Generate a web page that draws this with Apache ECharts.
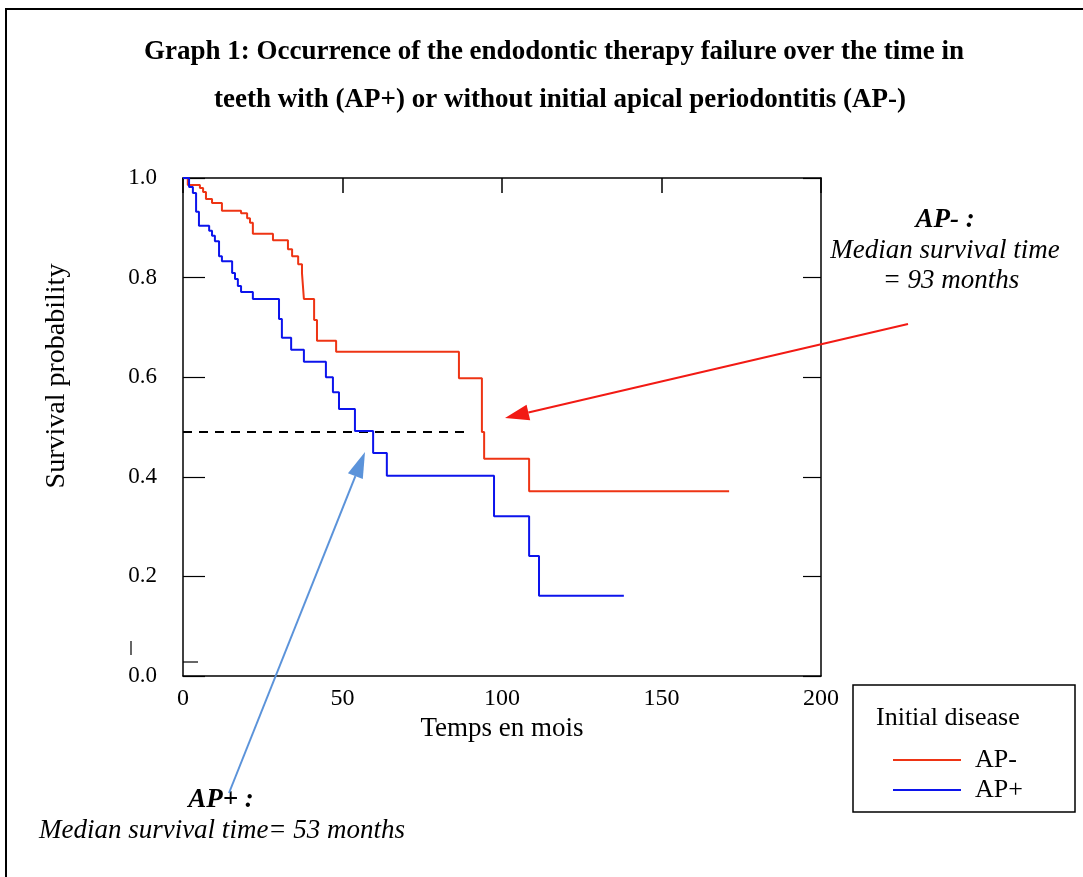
<!DOCTYPE html>
<html>
<head>
<meta charset="utf-8">
<script src="https://cdn.jsdelivr.net/npm/echarts@6/dist/echarts.min.js"></script>
<style>
html,body{margin:0;padding:0;background:#fff;}
#chart{width:1083px;height:877px;}
</style>
</head>
<body>
<div id="chart"></div>
<script>
// ---- data ----
const titleLines = [
  'Graph 1: Occurrence of the endodontic therapy failure over the time in',
  'teeth with (AP+) or without initial apical periodontitis (AP-)'
];
const xTicks = [0, 50, 100, 150, 200];
const yTicks = [0, 0.2, 0.4, 0.6, 0.8, 1.0];

// AP- (initial disease absent): step times (months) and survival after each step
const apMinusTime = [0, 1.5, 5.3, 6.3, 7.2, 9.1, 12.2, 18.2, 20.1, 21.0, 21.9, 28.2, 32.9, 34.2, 36.1, 37.3, 37.9, 41.1, 42.0, 48.0, 86.5, 93.7, 94.4, 108.5, 171.2];
const apMinusSurv = [1.0, 0.986, 0.980, 0.972, 0.958, 0.950, 0.934, 0.929, 0.919, 0.910, 0.888, 0.875, 0.857, 0.843, 0.827, 0.809, 0.757, 0.715, 0.673, 0.651, 0.598, 0.490, 0.436, 0.371, 0.371];

// AP+ (initial apical periodontitis)
const apPlusTime = [0, 1.9, 3.1, 4.1, 5.0, 8.2, 9.1, 10.0, 11.3, 12.2, 15.4, 16.3, 17.2, 18.2, 21.9, 30.1, 31.0, 33.9, 37.9, 44.8, 47.0, 48.9, 53.9, 59.6, 63.9, 97.5, 108.5, 111.6, 138.2];
const apPlusSurv = [1.0, 0.982, 0.970, 0.932, 0.904, 0.894, 0.884, 0.873, 0.843, 0.833, 0.809, 0.797, 0.783, 0.771, 0.757, 0.717, 0.679, 0.655, 0.631, 0.600, 0.570, 0.536, 0.492, 0.448, 0.402, 0.321, 0.241, 0.161, 0.161];

// median reference line
const medianLineTime = [0, 89.3];
const medianLineSurv = [0.49, 0.49];

const seriesNames = ['AP-', 'AP+'];
const legendTitle = 'Initial disease';
const xName = 'Temps en mois';
const yName = 'Survival probability';
const noteMinus = ['AP- :', 'Median survival time', '= 93 months'];
const notePlus = ['AP+ :', 'Median survival time= 53 months'];

// ---- build ----
const zip = (a, b) => a.map((v, i) => [v, b[i]]);
const FONT = '"Liberation Serif", "Times New Roman", serif';
const RED = '#ee3414';
const BLUE = '#0c14ec';
const LBLUE = '#5b93da';

const chart = echarts.init(document.getElementById('chart'));

function arrow(x1, y1, x2, y2, color, w, headLen, headW) {
  const ang = Math.atan2(y2 - y1, x2 - x1);
  const bx = x2 - headLen * Math.cos(ang), by = y2 - headLen * Math.sin(ang);
  const px = -Math.sin(ang) * headW / 2, py = Math.cos(ang) * headW / 2;
  return [
    {type: 'line', shape: {x1: x1, y1: y1, x2: bx, y2: by}, style: {stroke: color, lineWidth: w}, z: 20},
    {type: 'polygon', shape: {points: [[x2, y2], [bx + px, by + py], [bx - px, by - py]]}, style: {fill: color}, z: 20}
  ];
}

const axisLine = {show: true, onZero: false, lineStyle: {color: '#000', width: 1.5}};

const option = {
  backgroundColor: '#fff',
  animation: false,
  grid: {left: 183, top: 178, width: 638, height: 498, containLabel: false},
  xAxis: [
    {
      type: 'value', position: 'bottom', min: 0, max: 200, interval: 50,
      axisLine: axisLine, splitLine: {show: false},
      axisTick: {show: false},
      axisLabel: {color: '#000', fontFamily: FONT, fontSize: 24, margin: 11},
      name: xName, nameLocation: 'middle', nameGap: 35,
      nameTextStyle: {color: '#000', fontFamily: FONT, fontSize: 27}
    },
    {
      type: 'value', position: 'top', min: 0, max: 200, interval: 50,
      axisLine: axisLine, splitLine: {show: false},
      axisTick: {show: true, inside: true, length: 15, lineStyle: {color: '#000', width: 1.5}},
      axisLabel: {show: false}
    }
  ],
  yAxis: [
    {
      type: 'value', position: 'left', min: 0, max: 1, interval: 0.2,
      axisLine: axisLine, splitLine: {show: false},
      axisTick: {show: true, inside: true, length: 22, lineStyle: {color: '#000', width: 1.2}},
      axisLabel: {color: '#000', fontFamily: FONT, fontSize: 23, margin: 26,
        formatter: v => v.toFixed(1)}
    },
    {
      type: 'value', position: 'right', min: 0, max: 1, interval: 0.2,
      axisLine: axisLine, splitLine: {show: false},
      axisTick: {show: true, inside: true, length: 18, lineStyle: {color: '#000', width: 1.2}},
      axisLabel: {show: false}
    }
  ],
  legend: {
    data: seriesNames,
    orient: 'vertical', left: 893, top: 747, padding: 0,
    itemWidth: 68, itemHeight: 2, itemGap: 4,
    icon: 'rect',
    textStyle: {color: '#000', fontFamily: FONT, fontSize: 26, padding: [0, 0, 0, 9]}
  },
  series: [
    {name: seriesNames[0], type: 'line', step: 'end', data: zip(apMinusTime, apMinusSurv),
      showSymbol: false, symbol: 'none', color: RED, lineStyle: {color: RED, width: 2}, z: 5},
    {name: seriesNames[1], type: 'line', step: 'end', data: zip(apPlusTime, apPlusSurv),
      showSymbol: false, symbol: 'none', color: BLUE, lineStyle: {color: BLUE, width: 2}, z: 6},
    {name: 'median', type: 'line', data: zip(medianLineTime, medianLineSurv),
      showSymbol: false, symbol: 'none', color: '#000', lineStyle: {color: '#000', width: 1.8, type: [9, 7]}, z: 4}
  ],
  graphic: [
    // outer frame
    {type: 'rect', shape: {x: 6, y: 9, width: 1200, height: 1000}, style: {fill: 'none', stroke: '#000', lineWidth: 2}, z: 1},
    // title
    {type: 'text', x: 554, y: 52, style: {text: titleLines[0], fill: '#000', font: 'bold 27px ' + FONT, textAlign: 'center', textVerticalAlign: 'middle'}},
    {type: 'text', x: 560, y: 100, style: {text: titleLines[1], fill: '#000', font: 'bold 27px ' + FONT, textAlign: 'center', textVerticalAlign: 'middle'}},
    // y axis title
    {type: 'text', x: 57, y: 376, rotation: Math.PI / 2, style: {text: yName, fill: '#000', font: '28px ' + FONT, textAlign: 'center', textVerticalAlign: 'middle'}},
    // legend box
    {type: 'rect', shape: {x: 853, y: 685, width: 222, height: 127}, style: {fill: 'none', stroke: '#000', lineWidth: 1.5}},
    {type: 'text', x: 876, y: 718, style: {text: legendTitle, fill: '#000', font: '26px ' + FONT, textAlign: 'left', textVerticalAlign: 'middle'}},
    // stray marks near the origin
    {type: 'line', shape: {x1: 131, y1: 641, x2: 131, y2: 655}, style: {stroke: '#000', lineWidth: 1.2}},
    {type: 'line', shape: {x1: 183, y1: 662, x2: 198, y2: 662}, style: {stroke: '#000', lineWidth: 1.2}},
    // AP- note
    {type: 'text', x: 945, y: 220, style: {text: noteMinus[0], fill: '#000', font: 'italic bold 27px ' + FONT, textAlign: 'center', textVerticalAlign: 'middle'}},
    {type: 'text', x: 945, y: 251, style: {text: noteMinus[1], fill: '#000', font: 'italic 27px ' + FONT, textAlign: 'center', textVerticalAlign: 'middle'}},
    {type: 'text', x: 951, y: 281, style: {text: noteMinus[2], fill: '#000', font: 'italic 27px ' + FONT, textAlign: 'center', textVerticalAlign: 'middle'}},
    // AP+ note
    {type: 'text', x: 221, y: 800, style: {text: notePlus[0], fill: '#000', font: 'italic bold 27px ' + FONT, textAlign: 'center', textVerticalAlign: 'middle'}},
    {type: 'text', x: 222, y: 831, style: {text: notePlus[1], fill: '#000', font: 'italic 27px ' + FONT, textAlign: 'center', textVerticalAlign: 'middle'}}
  ].concat(arrow(908, 324, 505, 418, '#f21a14', 2, 24, 16))
   .concat(arrow(229, 793, 365, 452, LBLUE, 2, 26, 16))
};

chart.setOption(option);
</script>
</body>
</html>
